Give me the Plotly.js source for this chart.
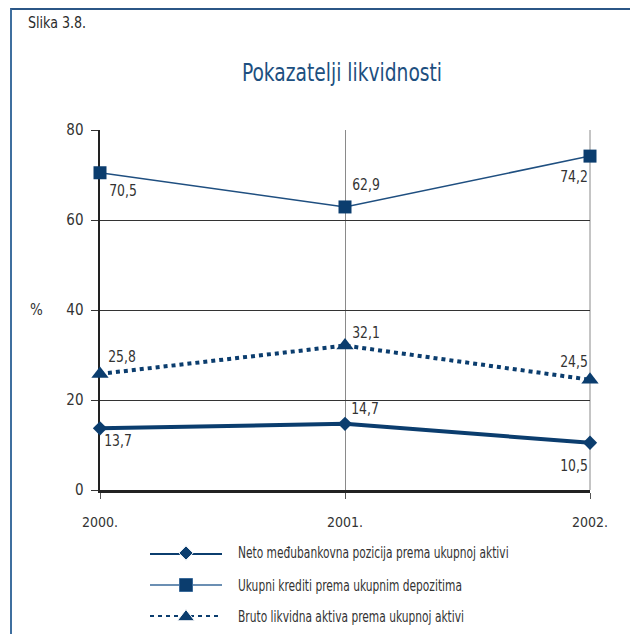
<!DOCTYPE html>
<html>
<head>
<meta charset="utf-8">
<script src="https://cdn.plot.ly/plotly-3.0.1.min.js"></script>
<style>
  html, body { margin: 0; padding: 0; background: #fff; }
  #wrap { position: relative; width: 630px; height: 634px; }
  #chart { width: 630px; height: 634px; }
  #frame { position: absolute; left: 10px; top: 8px; width: 620px; height: 626px;
           border-left: 2px solid #3f6f9f; border-top: 2px solid #2b5686;
           box-sizing: border-box; pointer-events: none; }
</style>
</head>
<body>
<div id="wrap">
  <div id="chart"></div>
  <div id="frame"></div>
</div>
<script>
// ---- data ----
const years = ['2000.', '2001.', '2002.'];
const seriesNames = [
  'Neto međubankovna pozicija prema ukupnoj aktivi',
  'Ukupni krediti prema ukupnim depozitima',
  'Bruto likvidna aktiva prema ukupnoj aktivi'
];
const neto = [13.7, 14.7, 10.5];
const ukupni = [70.5, 62.9, 74.2];
const bruto = [25.8, 32.1, 24.5];
const yTicks = [0, 20, 40, 60, 80];

// ---- styling ----
const W = 630, H = 634;
const FONT = "'Liberation Sans Narrow', 'DejaVu Sans Condensed', 'Roboto Condensed', 'Arial Narrow', sans-serif";
const NAVY = '#0b3d6e';
const styles = [
  {line: {color: NAVY, width: 4}, marker: {symbol: 'diamond', size: 11, color: NAVY, opacity: 1}},
  {line: {color: '#1f4f80', width: 1.5}, marker: {symbol: 'square', size: 13, color: NAVY, opacity: 1}},
  {line: {color: NAVY, width: 4, dash: '4px,4px'}, marker: {symbol: 'triangle-up', size: 15, color: NAVY, opacity: 1}}
];
// label offsets (px) per series, per point
const labelShift = [
  [[18, -13], [20, 15], [-16, -23]],
  [[23, -18], [21, 22], [-16, -21]],
  [[22, 17], [21, 13], [-16, 18]]
];
const allSeries = [neto, ukupni, bruto];

const px = (x) => x / W;
const py = (y) => 1 - y / H;
const plotBox = {left: 100, right: 590, top: 130, bottom: 490};

const traces = [];
const annotations = [];
allSeries.forEach((vals, i) => {
  traces.push({
    type: 'scatter', mode: 'lines+markers', x: years, y: vals,
    name: seriesNames[i], showlegend: false, cliponaxis: false,
    line: styles[i].line, marker: styles[i].marker, hoverinfo: 'skip'
  });
  vals.forEach((v, j) => {
    annotations.push({
      x: j, y: v, xref: 'x', yref: 'y', showarrow: false,
      text: v.toFixed(1).replace('.', ','),
      xshift: labelShift[i][j][0], yshift: labelShift[i][j][1],
      font: {family: FONT, size: 15, color: '#333'}
    });
  });
});

// custom legend: samples on a helper axis
const legendRowsY = [553, 586, 617];
allSeries.forEach((vals, i) => {
  traces.push({
    type: 'scatter', mode: 'lines+markers', x: [0, 1, 2], y: [i, i, i],
    xaxis: 'x2', yaxis: 'y2', showlegend: false, cliponaxis: false, hoverinfo: 'skip',
    line: i === 1 ? {color: '#3a6a9a', width: 1.5} : styles[i].line,
    marker: Object.assign({}, styles[i].marker, {size: [0, styles[i].marker.size, 0], opacity: 1})
  });
  annotations.push({
    xref: 'paper', yref: 'paper', x: px(236), y: py(legendRowsY[i]),
    xanchor: 'left', yanchor: 'middle', showarrow: false, text: seriesNames[i],
    font: {family: FONT, size: 15, color: '#333'}
  });
});

annotations.push({
  xref: 'paper', yref: 'paper', x: px(26), y: py(23), xanchor: 'left', yanchor: 'middle',
  showarrow: false, text: 'Slika 3.8.', font: {family: FONT, size: 16, color: '#2a2a2a'}
});
annotations.push({
  xref: 'paper', yref: 'paper', x: px(36), y: py(310), xanchor: 'center', yanchor: 'middle',
  showarrow: false, text: '%', font: {family: FONT, size: 15, color: '#333'}
});

const layout = {
  width: W, height: H,
  margin: {l: 0, r: 0, t: 0, b: 0},
  paper_bgcolor: '#fff', plot_bgcolor: 'rgba(0,0,0,0)',
  font: {family: FONT, color: '#333'},
  showlegend: false,
  title: {
    text: 'Pokazatelji likvidnosti', xref: 'paper', yref: 'paper',
    x: px(342), y: py(72), xanchor: 'center', yanchor: 'middle',
    font: {family: FONT, size: 25, color: '#1d4f80'}
  },
  xaxis: {
    domain: [px(plotBox.left), px(plotBox.right)], type: 'category', categoryorder: 'array', categoryarray: years,
    range: [0, years.length - 1], fixedrange: true,
    showgrid: true, gridcolor: '#8a8a8a', gridwidth: 1,
    showline: true, linecolor: '#222', linewidth: 2.5,
    ticks: 'outside', ticklen: 6, tickcolor: '#555', tickwidth: 1,
    ticklabelstandoff: 12,
    tickfont: {family: FONT, size: 14, color: '#333'},
    layer: 'below traces', zeroline: false
  },
  yaxis: {
    domain: [py(plotBox.bottom), py(plotBox.top)], range: [0, 80], tickvals: yTicks, fixedrange: true,
    showgrid: true, gridcolor: '#333', gridwidth: 1,
    showline: true, linecolor: '#222', linewidth: 2.5,
    ticks: 'outside', ticklen: 7, tickcolor: '#333', tickwidth: 1,
    ticklabelstandoff: 4,
    tickfont: {family: FONT, size: 15, color: '#333'},
    layer: 'below traces', zeroline: false
  },
  xaxis2: {
    domain: [px(150), px(222)], range: [0, 2], visible: false, fixedrange: true, anchor: 'y2'
  },
  yaxis2: {
    domain: [py(617), py(553)], range: [2, 0], visible: false, fixedrange: true, anchor: 'x2'
  },
  shapes: [
    // gridline at the right edge of the plot (plotly drops the grid at the edge)
    {type: 'line', xref: 'paper', yref: 'paper',
     x0: px(plotBox.right) , x1: px(plotBox.right),
     y0: py(plotBox.bottom), y1: py(plotBox.top),
     line: {color: '#8a8a8a', width: 1}, layer: 'below'}
  ],
  annotations: annotations
};

// narrow the glyphs to mimic the condensed typeface of the original
function squeeze(textEl, factor, keepLeft) {
  const L = textEl.getComputedTextLength();
  if (!L) return;
  const x = parseFloat(textEl.getAttribute('x') || '0');
  textEl.setAttribute('textLength', (L * factor).toFixed(1));
  textEl.setAttribute('lengthAdjust', 'spacingAndGlyphs');
  if (keepLeft) {
    const anchor = textEl.getAttribute('text-anchor') || 'start';
    let left = x;
    if (anchor === 'middle') left = x - L / 2;
    else if (anchor === 'end') left = x - L;
    textEl.setAttribute('text-anchor', 'start');
    textEl.setAttribute('x', left.toFixed(1));
  }
}

Plotly.newPlot('chart', traces, layout, {staticPlot: true, displayModeBar: false}).then(gd => {
  gd.querySelectorAll('.annotation').forEach(g => {
    const t = g.querySelector('text.annotation-text');
    if (!t) return;
    if (/[A-Za-z]/.test(t.textContent)) {
      squeeze(t, t.textContent.startsWith('Slika') ? 0.88 : 0.79, true);
    } else if (/,/.test(t.textContent)) {
      squeeze(t, 0.92, false);
    }
  });
  const title = gd.querySelector('.gtitle');
  if (title) squeeze(title, 0.83, false);
});
</script>
</body>
</html>
